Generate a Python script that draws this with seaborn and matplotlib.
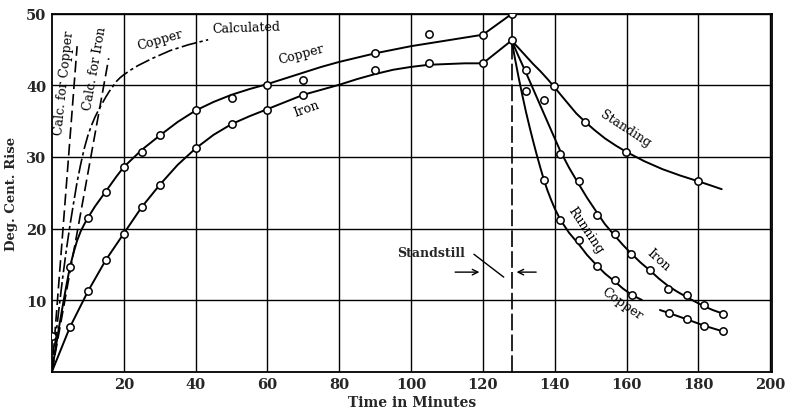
import seaborn as sns
import matplotlib.pyplot as plt
import pandas as pd

# heating run, curves (minutes, deg C rise)
cu_run_t = [0, 1, 2, 3, 4, 5, 6, 7, 8, 9, 10, 12, 14, 16, 18, 20, 22.5, 25, 27.5, 30, 35, 40,
            45, 50, 55, 60, 65, 70, 75, 80, 85, 90, 95, 100, 105, 110, 115, 120, 128]
cu_run_y = [0, 3.2, 6.3, 9.2, 12.0, 14.6, 16.6, 18.3, 19.6, 20.6, 21.5, 23.1, 24.5, 25.9, 27.3,
            28.6, 29.8, 31.0, 32.0, 33.0, 34.9, 36.5, 37.7, 38.7, 39.5, 40.2, 41.0, 41.8, 42.6,
            43.3, 43.9, 44.5, 45.0, 45.5, 45.9, 46.3, 46.7, 47.1, 50]
fe_run_t = [0, 5, 10, 15, 20, 25, 30, 35, 40, 45, 50, 55, 60, 65, 70, 75, 80, 85, 90, 95,
            100, 105, 110, 115, 120, 128]
fe_run_y = [0, 6.2, 11.2, 15.6, 19.3, 23.0, 26.1, 28.9, 31.2, 33.1, 34.6, 35.7, 36.7, 37.7,
            38.7, 39.4, 40.1, 40.9, 41.6, 42.2, 42.6, 42.9, 43.0, 43.1, 43.1, 46.3]

cu_pts_t = [0, 5, 10, 15, 20, 25, 30, 40, 50, 60, 70, 90, 105, 120, 128]
cu_pts_y = [4.9, 14.6, 21.5, 25.1, 28.6, 30.7, 33.1, 36.6, 38.3, 40.1, 40.7, 44.5, 47.2, 47.1, 50]
fe_pts_t = [5, 10, 15, 20, 25, 30, 40, 50, 60, 70, 90, 105, 120, 128]
fe_pts_y = [6.2, 11.2, 15.6, 19.2, 23.0, 26.1, 31.2, 34.6, 36.6, 38.7, 42.2, 43.1, 43.1, 46.3]

# calculated curves
calc_cu_t = [0, 7.0]
calc_cu_y = [0, 45.5]
calc_fe_t = [0, 15.8]
calc_fe_y = [0, 43.8]
cu_calc_t = [0, 1, 2, 3, 4, 5, 6, 7, 8, 9, 10, 11, 12, 13, 14, 15, 16, 17, 18, 19, 20, 22,
             24, 28, 33, 38, 43.5]
cu_calc_y = [0, 4.6, 9, 13.2, 17, 20.4, 23.5, 26.5, 29, 31.2, 33, 34.4, 35.6, 36.6, 37.5,
             38.4, 39.2, 39.9, 40.6, 41.1, 41.5, 42.2, 42.8, 43.8, 44.9, 45.7, 46.4]

# cooling
stand_t = [128, 130, 132, 134, 136, 138, 139.7, 142, 144, 146, 148.3, 151, 154, 157, 160,
           165, 170, 175, 180, 183, 186.5]
stand_y = [46.3, 45.2, 44.1, 43.0, 42.0, 40.9, 39.9, 38.5, 37.3, 36.1, 35.0, 33.8, 32.6,
           31.6, 30.7, 29.4, 28.3, 27.4, 26.6, 26.1, 25.5]
stand_pts_t = [139.7, 148.3, 159.9, 179.8]
stand_pts_y = [39.9, 34.9, 30.7, 26.7]

fe_cool_t = [128, 130, 132, 134, 136, 138, 140, 141.6, 144, 146.7, 149, 151.8, 154, 156.7,
             159, 161.3, 164, 166.6, 169, 171.5, 174, 176.8, 179, 181.7, 184, 186.8]
fe_cool_y = [46.3, 44.0, 41.8, 39.5, 37.2, 34.9, 32.6, 30.8, 28.5, 26.2, 24.3, 22.2, 20.6,
             19.0, 17.7, 16.5, 15.2, 14.1, 13.0, 12.0, 11.2, 10.4, 9.8, 9.1, 8.6, 8.1]
fe_cool_pts_t = [132.1, 141.6, 146.7, 151.8, 156.7, 161.3, 166.6, 171.5, 176.8, 181.7, 186.8]
fe_cool_pts_y = [42.1, 30.4, 26.7, 21.9, 19.2, 16.5, 14.2, 11.6, 10.7, 9.3, 8.1]

cu_cool_t = [128, 129, 130, 131, 132, 133, 134, 135, 136, 137, 138, 139, 140, 141.6, 144,
             146.7, 149, 151.8, 154, 156.7, 159, 161.5, 164.3]
cu_cool_y = [46.3, 43.6, 41.0, 38.6, 36.3, 34.2, 32.2, 30.3, 28.5, 26.8, 25.3, 24.0, 22.8,
             21.2, 19.4, 17.8, 16.3, 14.8, 13.7, 12.6, 11.6, 10.7, 10.0]
cu_cool2_t = [169.3, 171.7, 176.8, 181.7, 186.9]
cu_cool2_y = [8.6, 8.2, 7.3, 6.4, 5.6]
cu_cool_pts_t = [132.1, 136.9, 141.6, 146.7, 151.8, 156.7, 161.5, 171.7, 176.8, 181.7, 186.9]
cu_cool_pts_y = [39.2, 26.8, 21.2, 18.4, 14.7, 12.8, 10.7, 8.2, 7.3, 6.3, 5.6]
stray_t = [137.0]
stray_y = [38.0]

x_ticks = [20, 40, 60, 80, 100, 120, 140, 160, 180, 200]
y_ticks = [10, 20, 30, 40, 50]

sns.set_style('white')
plt.rcParams['font.family'] = ['DejaVu Serif']

fig = plt.figure(figsize=(7.85, 4.14), dpi=100)
ax = fig.add_axes([0.0662, 0.1002, 0.9172, 0.8636])

def curve(t, y, **kw):
    d = pd.DataFrame({'t': t, 'y': y})
    sns.lineplot(data=d, x='t', y='y', sort=False, estimator=None, ax=ax,
                 color='black', legend=False, **kw)

def dots(t, y):
    d = pd.DataFrame({'t': t, 'y': y})
    sns.scatterplot(data=d, x='t', y='y', ax=ax, s=28, facecolor='white',
                    edgecolor='black', linewidth=1.1, zorder=5, legend=False)

lw = 1.4
curve(cu_run_t, cu_run_y, linewidth=lw)
curve(fe_run_t, fe_run_y, linewidth=lw)
curve(stand_t, stand_y, linewidth=lw)
curve(fe_cool_t, fe_cool_y, linewidth=lw)
curve(cu_cool_t, cu_cool_y, linewidth=lw)
curve(cu_cool2_t, cu_cool2_y, linewidth=lw)
curve(calc_cu_t, calc_cu_y, linewidth=1.2, dashes=(7, 3))
curve(calc_fe_t, calc_fe_y, linewidth=1.2, dashes=(7, 3))
curve(cu_calc_t, cu_calc_y, linewidth=1.2, dashes=(9, 2, 2, 2))

# standstill vertical line
ax.plot([128, 128], [46.3, 50], color='black', lw=1.2)
ax.plot([128, 128], [0, 46.3], color='black', lw=1.2, dashes=(10, 2.5))

for t, y in [(cu_pts_t, cu_pts_y), (fe_pts_t, fe_pts_y), (stand_pts_t, stand_pts_y),
             (fe_cool_pts_t, fe_cool_pts_y), (cu_cool_pts_t, cu_cool_pts_y), (stray_t, stray_y)]:
    dots(t, y)

ax.set_xlim(0, 200.5)
ax.set_ylim(0, 50)
ax.set_xticks(x_ticks)
ax.set_yticks(y_ticks)
ax.set_xticklabels([str(v) for v in x_ticks], fontsize=10.5, fontweight='bold')
ax.set_yticklabels([str(v) for v in y_ticks], fontsize=10.5, fontweight='bold')
ax.tick_params(length=0, pad=4)
ax.grid(True, color='black', linewidth=1.0)
ax.set_axisbelow(True)
for s in ax.spines.values():
    s.set_color('black')
    s.set_linewidth(1.3)
ax.set_xlabel('Time in Minutes', fontsize=10, fontweight='bold', labelpad=3)
ax.set_ylabel('Deg. Cent. Rise', fontsize=9.5, fontweight='bold', labelpad=6)

# labels
tk = dict(fontsize=9, color='black', ha='center', va='center', zorder=6)
ax.text(3.4, 40.5, 'Calc. for Copper', rotation=84, **tk)
ax.text(11.9, 42.5, 'Calc. for Iron', rotation=80, **tk)
ax.text(30, 46.4, 'Copper', rotation=16, **tk)
ax.text(54, 48.1, 'Calculated', rotation=2, **tk)
ax.text(69.5, 44.4, 'Copper', rotation=15, **tk)
ax.text(71, 36.8, 'Iron', rotation=20, **tk)
ax.text(159.6, 34.0, 'Standing', rotation=-33, **tk)
ax.text(148.5, 19.8, 'Running', rotation=-56, **tk)
ax.text(168.9, 15.7, 'Iron', rotation=-42, **tk)
ax.text(158.7, 9.6, 'Copper', rotation=-35, **tk)

ax.text(105.6, 16.6, 'Standstill', fontsize=9, fontweight='bold', ha='center', va='center')
ax.plot([117.5, 125.8], [16.4, 13.2], color='black', lw=1.0)
ax.annotate('', xy=(119.8, 13.9), xytext=(111.5, 13.9),
            arrowprops=dict(arrowstyle='->', color='black', lw=1.0))
ax.annotate('', xy=(128.6, 13.9), xytext=(135.6, 13.9),
            arrowprops=dict(arrowstyle='->', color='black', lw=1.0))

fig.savefig('out.png', dpi=100)
